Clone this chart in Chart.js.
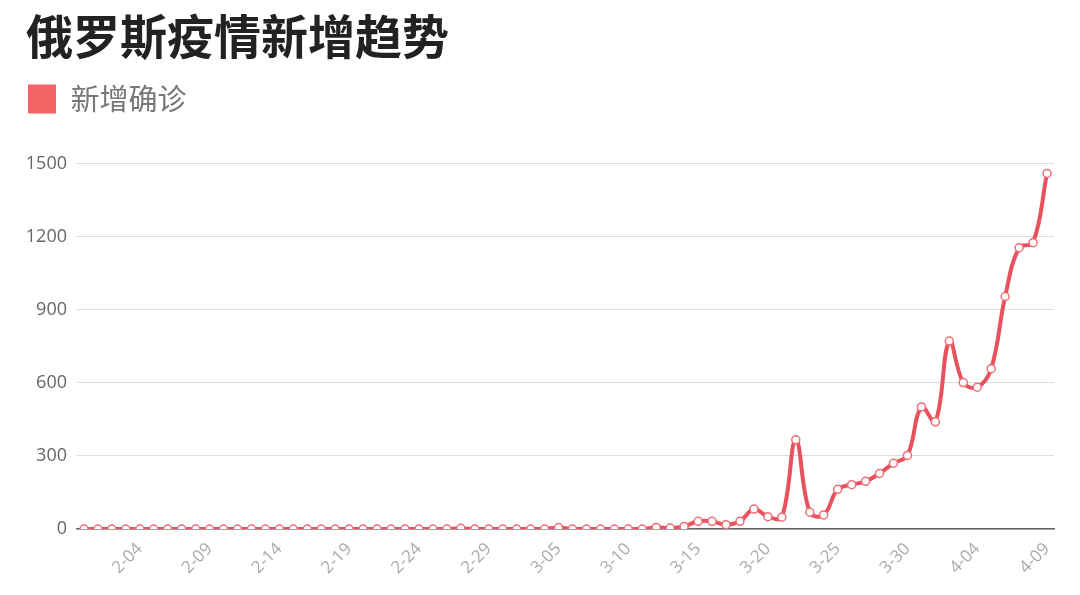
<!DOCTYPE html>
<html>
<head>
<meta charset="utf-8">
<script src="https://cdn.jsdelivr.net/npm/chart.js@4.4.0/dist/chart.umd.min.js"></script>
<style>
html,body{margin:0;padding:0;background:#fff;}
#wrap{width:1080px;height:595px;position:relative;}
</style>
</head>
<body>
<div id="wrap"><canvas id="c"></canvas></div>
<script>
const chartTitle = '俄罗斯疫情新增趋势';
const seriesName = '新增确诊';
const dates = [
  '1-31',
  '2-01','2-02','2-03','2-04','2-05','2-06','2-07','2-08','2-09','2-10',
  '2-11','2-12','2-13','2-14','2-15','2-16','2-17','2-18','2-19','2-20',
  '2-21','2-22','2-23','2-24','2-25','2-26','2-27','2-28','2-29',
  '3-01','3-02','3-03','3-04','3-05','3-06','3-07','3-08','3-09','3-10',
  '3-11','3-12','3-13','3-14','3-15','3-16','3-17','3-18','3-19','3-20',
  '3-21','3-22','3-23','3-24','3-25','3-26','3-27','3-28','3-29','3-30','3-31',
  '4-01','4-02','4-03','4-04','4-05','4-06','4-07','4-08','4-09'
];
const newCases = [
  0,
  0,0,0,0,0,0,0,0,0,0,
  0,0,0,0,0,0,0,0,0,0,
  0,0,0,0,0,0,3,0,0,
  0,0,0,0,6,0,0,0,0,0,
  0,7,4,11,32,32,18,32,82,51,
  49,366,69,58,163,182,196,228,270,302,501,
  440,771,601,582,658,954,1154,1175,1459
];
const shownTicks = ['2-04','2-09','2-14','2-19','2-24','2-29','3-05','3-10','3-15','3-20','3-25','3-30','4-04','4-09'];
const yTicks = [0, 300, 600, 900, 1200, 1500];

const legendSpacer = {
  id: 'legendSpacer',
  beforeInit(chart) {
    const lg = chart.legend;
    const orig = lg.fit;
    lg.fit = function () { orig.call(this); this.height += 40; };
  }
};

new Chart(document.getElementById('c'), {
  type: 'line',
  data: {
    labels: dates,
    datasets: [{
      label: seriesName,
      data: newCases,
      borderColor: '#e8525e',
      backgroundColor: '#f26466',
      borderWidth: 4,
      tension: 0.4,
      pointRadius: 4,
      pointBorderWidth: 1.5,
      pointBackgroundColor: '#ffffff',
      pointBorderColor: '#ef6d76',
      fill: false
    }]
  },
  options: {
    responsive: true,
    maintainAspectRatio: false,
    animation: false,
    layout: { padding: { left: 26, right: 26, top: 0, bottom: 7 } },
    plugins: {
      title: {
        display: true,
        text: chartTitle,
        align: 'start',
        color: '#222222',
        font: { family: "'Noto Sans CJK SC', sans-serif", size: 47, weight: 'bold' },
        padding: { top: 8, bottom: 18 }
      },
      legend: {
        display: true,
        align: 'start',
        labels: {
          boxWidth: 28,
          boxHeight: 29,
          padding: 2,
          color: '#777777',
          font: { family: "'Noto Sans CJK SC', sans-serif", size: 29 },
          generateLabels(chart) {
            const items = Chart.defaults.plugins.legend.labels.generateLabels(chart);
            items.forEach(it => { it.lineWidth = 0; it.fillStyle = '#f26466'; it.strokeStyle = '#f26466'; });
            return items;
          }
        }
      },
      tooltip: { enabled: false }
    },
    scales: {
      x: {
        offset: true,
        grid: { display: false, drawTicks: false },
        border: { display: true, color: '#666666', width: 1.5 },
        afterFit(axis) { axis.paddingLeft = 0; },
        ticks: {
          autoSkip: false,
          maxRotation: 45,
          minRotation: 45,
          padding: 10,
          color: '#aaaaaa',
          font: { family: "'Open Sans', 'Noto Sans', sans-serif", size: 17 },
          callback(value, index) {
            const lab = dates[index];
            return shownTicks.includes(lab) ? lab : '';
          }
        }
      },
      y: {
        min: yTicks[0],
        max: yTicks[yTicks.length - 1],
        grid: { color: '#dddddd', lineWidth: 1, drawTicks: false },
        border: { display: false },
        afterBuildTicks(axis) { axis.ticks = yTicks.map(v => ({ value: v })); },
        afterFit(axis) { axis.width = 51; },
        ticks: {
          padding: 10,
          color: '#666666',
          font: { family: "'Open Sans', 'Noto Sans', sans-serif", size: 18 },
          callback(value) { return String(value); }
        }
      }
    }
  },
  plugins: [legendSpacer]
});
</script>
</body>
</html>
